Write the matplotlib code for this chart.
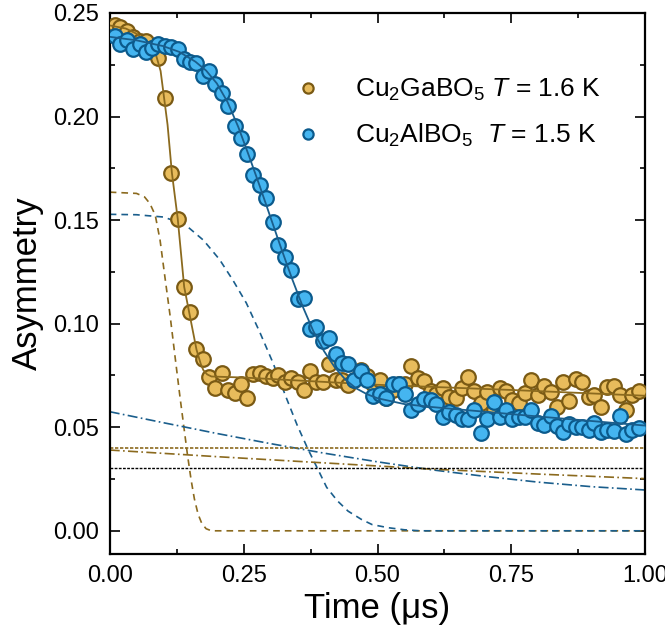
import matplotlib
matplotlib.use("Agg")
import matplotlib.pyplot as plt
from matplotlib.ticker import MultipleLocator, FormatStrFormatter

plt.rcParams['font.family'] = ['Liberation Sans', 'DejaVu Sans']
plt.rcParams['mathtext.fontset'] = 'custom'
plt.rcParams['mathtext.rm'] = 'Liberation Sans'
plt.rcParams['mathtext.it'] = 'Liberation Sans:italic'

# time bins (us), shared by both samples
time = [0.009, 0.020, 0.032, 0.044, 0.056, 0.068, 0.079, 0.091, 0.103, 0.115,
        0.127, 0.138, 0.150, 0.162, 0.174, 0.186, 0.197, 0.209, 0.221, 0.233,
        0.245, 0.256, 0.268, 0.280, 0.292, 0.304, 0.315, 0.327, 0.339, 0.351,
        0.363, 0.374, 0.386, 0.398, 0.410, 0.422, 0.433, 0.445, 0.457, 0.469,
        0.481, 0.492, 0.504, 0.516, 0.528, 0.540, 0.551, 0.563, 0.575, 0.587,
        0.599, 0.610, 0.622, 0.634, 0.646, 0.658, 0.669, 0.681, 0.693, 0.705,
        0.717, 0.728, 0.740, 0.752, 0.764, 0.776, 0.787, 0.799, 0.811, 0.823,
        0.835, 0.846, 0.858, 0.870, 0.882, 0.894, 0.905, 0.917, 0.929, 0.941,
        0.953, 0.964, 0.976, 0.988]

# Cu2GaBO5, T = 1.6 K
asym_ga = [0.2441, 0.2432, 0.2412, 0.2382, 0.2363, 0.2366, 0.2333, 0.2281, 0.2092, 0.1728,
           0.1507, 0.1178, 0.1055, 0.0878, 0.0828, 0.0745, 0.0691, 0.0763, 0.0678, 0.0664,
           0.0710, 0.0640, 0.0755, 0.0764, 0.0748, 0.0740, 0.0751, 0.0719, 0.0740, 0.0719,
           0.0679, 0.0772, 0.0719, 0.0719, 0.0803, 0.0727, 0.0727, 0.0703, 0.0730, 0.0775,
           0.0747, 0.0711, 0.0727, 0.0639, 0.0682, 0.0710, 0.0711, 0.0794, 0.0740, 0.0724,
           0.0677, 0.0659, 0.0689, 0.0648, 0.0642, 0.0689, 0.0743, 0.0677, 0.0616, 0.0671,
           0.0582, 0.0690, 0.0674, 0.0631, 0.0619, 0.0667, 0.0727, 0.0657, 0.0700, 0.0671,
           0.0598, 0.0719, 0.0626, 0.0735, 0.0719, 0.0646, 0.0654, 0.0598, 0.0695, 0.0700,
           0.0654, 0.0582, 0.0654, 0.0674]

# Cu2AlBO5, T = 1.5 K
asym_al = [0.2390, 0.2348, 0.2370, 0.2326, 0.2348, 0.2310, 0.2329, 0.2348, 0.2342, 0.2334,
           0.2324, 0.2278, 0.2261, 0.2259, 0.2198, 0.2220, 0.2156, 0.2115, 0.2052, 0.1955,
           0.1895, 0.1817, 0.1718, 0.1669, 0.1607, 0.1492, 0.1382, 0.1320, 0.1258, 0.1119,
           0.1122, 0.0973, 0.0982, 0.0917, 0.0929, 0.0856, 0.0811, 0.0803, 0.0727, 0.0772,
           0.0727, 0.0651, 0.0662, 0.0643, 0.0711, 0.0707, 0.0659, 0.0585, 0.0612, 0.0634,
           0.0631, 0.0614, 0.0550, 0.0574, 0.0558, 0.0542, 0.0542, 0.0582, 0.0474, 0.0538,
           0.0622, 0.0550, 0.0585, 0.0542, 0.0550, 0.0550, 0.0582, 0.0522, 0.0513, 0.0555,
           0.0505, 0.0477, 0.0518, 0.0499, 0.0502, 0.0485, 0.0522, 0.0477, 0.0485, 0.0482,
           0.0553, 0.0469, 0.0489, 0.0494]

# fit curves
fit_ga_t = [0.0, 0.03, 0.05, 0.07, 0.085, 0.095, 0.102, 0.108, 0.116, 0.127, 0.139,
            0.15, 0.162, 0.17, 0.175, 0.182, 0.19, 0.25, 0.5, 0.75, 1.0]
fit_ga_a = [0.2440, 0.2425, 0.2400, 0.2360, 0.2310, 0.2220, 0.2080, 0.1960, 0.1730,
            0.1506, 0.1178, 0.1033, 0.0875, 0.0805, 0.0775, 0.0755, 0.0745, 0.0740,
            0.0705, 0.0680, 0.0652]

fit_al_t = [0.0, 0.05, 0.10, 0.13, 0.16, 0.18, 0.20, 0.22, 0.24, 0.26, 0.28, 0.30,
            0.32, 0.34, 0.36, 0.38, 0.40, 0.42, 0.44, 0.46, 0.48, 0.50, 0.55, 0.60,
            0.70, 0.80, 0.90, 1.00]
fit_al_a = [0.2385, 0.2368, 0.2340, 0.2312, 0.2265, 0.2222, 0.2160, 0.2070, 0.1950,
            0.1810, 0.1665, 0.1515, 0.1365, 0.1220, 0.1085, 0.0965, 0.0868, 0.0790,
            0.0730, 0.0688, 0.0660, 0.0640, 0.0612, 0.0598, 0.0575, 0.0552, 0.0530,
            0.0508]

# fit components
comp_ga_t = [0.0, 0.05, 0.065, 0.075, 0.085, 0.094, 0.103, 0.113, 0.122, 0.131, 0.138,
             0.145, 0.152, 0.158, 0.165, 0.172, 0.18, 0.19, 1.0]
comp_ga_a = [0.1635, 0.1629, 0.1612, 0.1580, 0.1524, 0.1403, 0.1226, 0.1033, 0.0840,
             0.0650, 0.0510, 0.0370, 0.0245, 0.0155, 0.0080, 0.0035, 0.0010, 0.0, 0.0]

comp_al_t = [0.0, 0.05, 0.10, 0.14, 0.175, 0.205, 0.23, 0.255, 0.28, 0.305, 0.33, 0.35,
             0.37, 0.39, 0.405, 0.425, 0.445, 0.47, 0.49, 0.52, 0.55, 0.58, 1.0]
comp_al_a = [0.1528, 0.1526, 0.1515, 0.1480, 0.1403, 0.1310, 0.1210, 0.1100, 0.0960,
             0.0810, 0.0640, 0.0510, 0.0395, 0.0290, 0.0210, 0.0145, 0.0095, 0.0055,
             0.0030, 0.0015, 0.0005, 0.0, 0.0]

tail_t = [0.0, 0.1, 0.2, 0.3, 0.4, 0.5, 0.6, 0.7, 0.8, 0.9, 1.0]
tail_al = [0.0575, 0.0522, 0.0470, 0.0421, 0.0375, 0.0333, 0.0295, 0.0263, 0.0235, 0.0213, 0.0197]
tail_ga = [0.0390, 0.0374, 0.0358, 0.0343, 0.0328, 0.0313, 0.0298, 0.0286, 0.0274, 0.0263, 0.0252]

bg_ga = 0.0399
bg_common = 0.0305

gold_face = '#E8BC5C'
gold_edge = '#7A5A14'
gold_line = '#8B6A1E'
blue_face = '#45B5F0'
blue_edge = '#0B5A8C'
blue_line = '#1A5E8C'

fig = plt.figure(figsize=(6.65, 6.4), dpi=100)
ax = fig.add_axes([0.165, 0.135, 0.8054, 0.8447])

# components
ax.plot(comp_ga_t, comp_ga_a, ls=(0, (4, 3)), color=gold_line, lw=1.2)
ax.plot(comp_al_t, comp_al_a, ls=(0, (4, 3)), color=blue_line, lw=1.2)
ax.plot(tail_t, tail_al, ls=(0, (6, 2, 1, 2)), color=blue_line, lw=1.2)
ax.plot(tail_t, tail_ga, ls=(0, (6, 2, 1, 2)), color=gold_line, lw=1.2)
ax.axhline(bg_ga, ls=(0, (2, 1)), color=gold_line, lw=1.2)
ax.axhline(bg_common, ls=(0, (2, 1)), color='black', lw=1.0)

# data
ax.plot(time, asym_ga, 'o', ms=10.5, mfc=gold_face, mec=gold_edge, mew=1.6,
        label=r'Cu$_2$GaBO$_5$ $T$ = 1.6 K', zorder=3)
ax.plot(fit_ga_t, fit_ga_a, '-', color=gold_line, lw=1.3, zorder=4)
ax.plot(time, asym_al, 'o', ms=10.5, mfc=blue_face, mec=blue_edge, mew=1.6,
        label=r'Cu$_2$AlBO$_5$  $T$ = 1.5 K', zorder=5)
ax.plot(fit_al_t, fit_al_a, '-', color=blue_line, lw=1.3, zorder=6)

ax.set_xlim(0, 1.0)
ax.set_ylim(-0.011, 0.25)
ax.xaxis.set_major_locator(MultipleLocator(0.25))
ax.xaxis.set_minor_locator(MultipleLocator(0.125))
ax.yaxis.set_major_locator(MultipleLocator(0.05))
ax.yaxis.set_minor_locator(MultipleLocator(0.025))
ax.xaxis.set_major_formatter(FormatStrFormatter('%.2f'))
ax.yaxis.set_major_formatter(FormatStrFormatter('%.2f'))
ax.tick_params(which='both', direction='in', top=True, right=True, width=1.2,
               labelsize=17)
ax.tick_params(which='major', length=7, pad=8)
ax.tick_params(which='minor', length=3.5)
for s in ax.spines.values():
    s.set_linewidth(1.6)

ax.set_xlabel('Time (μs)', fontsize=25, labelpad=4)
ax.set_ylabel('Asymmetry', fontsize=25, labelpad=6)

ax.legend(loc='upper left', bbox_to_anchor=(0.277, 0.926), frameon=False, fontsize=19,
          markerscale=0.7, handletextpad=0.78, labelspacing=0.72)

fig.savefig('out.png', dpi=100)
